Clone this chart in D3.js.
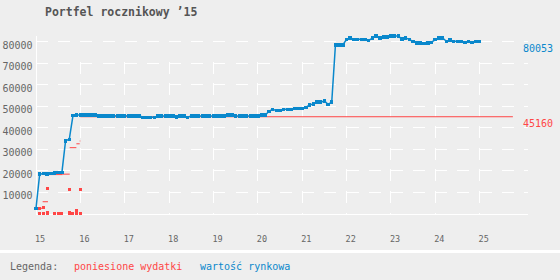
<!DOCTYPE html>
<html>
<head>
<meta charset="utf-8">
<title>Portfel rocznikowy ’15</title>
<script src="https://cdn.jsdelivr.net/npm/d3@7"></script>
<style>
  html, body { margin: 0; padding: 0; background: #eeeeee; }
  svg { display: block; font-family: "DejaVu Sans Mono", monospace; }
</style>
</head>
<body>
<div id="chart"></div>
<script>
// market value, one point per month from Jan 2015 to Jan 2025
const startYear = 2015;
const marketValue = [
  2650, 18600, 18700, 18600, 18800, 19000, 19200, 19200, 34000, 34700,
  45700, 46000, 46000, 46000, 46000, 45900, 45900, 45600, 45600, 45600,
  45600, 45500, 45600, 45600, 45500, 45600, 45600, 45500, 45500, 44900,
  44900, 44900, 44900, 45500, 45500, 45500, 45500, 45500, 45000, 45500,
  45500, 44900, 45500, 45500, 45500, 45500, 45500, 45500, 45500, 45500,
  45500, 45500, 46000, 46000, 45500, 45500, 45500, 45500, 45500, 45500,
  45600, 45900, 45900, 47700, 48600, 48100, 48100, 48600, 48600, 48600,
  49100, 49100, 49100, 49500, 50600, 51100, 51900, 51900, 52500, 50900,
  51900, 78500, 78500, 78500, 81100, 81700, 81100, 81100, 81100, 81100,
  80600, 81700, 82600, 81700, 82200, 82200, 82600, 82600, 82600, 81200,
  81700, 81100, 80000, 79500, 79500, 79100, 79500, 79700, 81100, 81700,
  81700, 80200, 80800, 80200, 80200, 80200, 79700, 80200, 79700, 80200,
  80053
];

// cumulative expenses (each level holds until the next date)
const costDates  = [2015.08, 2015.15, 2015.27, 2015.60, 2015.76, 2015.91, 2015.985, 2016.0, 2025.75];
const costTotals = [2650, 5700, 18300, 18500, 30800, 32600, 33900, 45160, 45160];

// single purchases
const buyDates   = [2015.08, 2015.08, 2015.17, 2015.17, 2015.25, 2015.25, 2015.25, 2015.42, 2015.50,
                    2015.57, 2015.75, 2015.75, 2015.75, 2015.83, 2015.92, 2015.92, 2016.00, 2016.00];
const buyAmounts = [2650, 450, 3100, 450, 11900, 450, 900, 450, 450,
                    450, 11500, 450, 900, 450, 450, 1500, 11500, 450];

const yearTicks  = [15, 16, 17, 18, 19, 20, 21, 22, 23, 24, 25];
const valueTicks = [10000, 20000, 30000, 40000, 50000, 60000, 70000, 80000];

const W = 560, H = 280;
const blue = "#0a88cc", red = "#ff4646", grey = "#666";

const x = d3.scaleLinear().domain([2015, 2025]).range([36, 479.6]);
const y = d3.scaleLinear().domain([0, 80000]).range([214, 41.7]);
const gridRight = 528;

const svg = d3.select("#chart").append("svg")
  .attr("width", W).attr("height", H);

svg.append("rect").attr("width", W).attr("height", H).attr("fill", "#eeeeee");

// title
svg.append("text")
  .attr("x", 45).attr("y", 15.5)
  .attr("font-size", 11.5).attr("font-weight", "bold")
  .attr("fill", "#555")
  .text("Portfel rocznikowy ’15");

// grid
const grid = svg.append("g").attr("stroke", "#fff").attr("shape-rendering", "crispEdges");

grid.selectAll(".hg").data(valueTicks).enter().append("line")
  .attr("x1", x(2015)).attr("x2", gridRight)
  .attr("y1", d => y(d)).attr("y2", d => y(d))
  .attr("stroke-dasharray", "12,10.18");

grid.selectAll(".vg").data(yearTicks.slice(1)).enter().append("line")
  .attr("x1", d => x(2000 + d)).attr("x2", d => x(2000 + d))
  .attr("y1", y(70000) - 1.5).attr("y2", y(0))
  .attr("stroke-dasharray", "12,9.54");

// axes lines
grid.append("line").attr("x1", x(2015)).attr("x2", x(2015))
  .attr("y1", 36).attr("y2", y(0));
grid.append("line").attr("x1", x(2015)).attr("x2", gridRight)
  .attr("y1", y(0)).attr("y2", y(0));

// tick labels
svg.selectAll(".yl").data(valueTicks).enter().append("text")
  .attr("x", 32.5).attr("y", d => y(d) + 7)
  .attr("text-anchor", "end").attr("font-size", 10).attr("fill", grey)
  .text(d => d);

svg.selectAll(".xl").data(yearTicks).enter().append("text")
  .attr("x", d => x(2000 + d) - 1).attr("y", 242)
  .attr("font-size", 8.5).attr("fill", grey)
  .text(d => d);

// expenses: horizontal levels
const levels = costDates.slice(0, -1).map((d, i) => ({ from: d, to: costDates[i + 1], v: costTotals[i] }));
svg.append("g").attr("stroke", red).attr("stroke-width", 1)
  .selectAll("line").data(levels).enter().append("line")
  .attr("x1", d => x(d.from)).attr("x2", d => x(d.to))
  .attr("y1", d => y(d.v)).attr("y2", d => y(d.v));

// purchases
svg.append("g").attr("fill", red).attr("shape-rendering", "crispEdges")
  .selectAll("rect").data(buyDates.map((d, i) => [d, buyAmounts[i]])).enter().append("rect")
  .attr("x", d => x(d[0]) - 1.5).attr("y", d => y(d[1]) - 1.5)
  .attr("width", 3).attr("height", 3);

// market value line
const pts = marketValue.map((v, i) => [startYear + i / 12, v]);
svg.append("path").datum(pts)
  .attr("fill", "none").attr("stroke", blue).attr("stroke-width", 1.5)
  .attr("d", d3.line().x(d => x(d[0])).y(d => y(d[1])));

svg.append("g").attr("fill", blue).attr("shape-rendering", "crispEdges")
  .selectAll("rect").data(pts).enter().append("rect")
  .attr("x", d => x(d[0]) - 1.75).attr("y", d => y(d[1]) - 1.75)
  .attr("width", 3.5).attr("height", 3.5);

// end labels
const lastValue = marketValue[marketValue.length - 1];
const lastCost = costTotals[costTotals.length - 1];
svg.append("text").attr("x", 523).attr("y", y(lastValue) + 10)
  .attr("font-size", 10).attr("fill", blue).text(lastValue);
svg.append("text").attr("x", 523).attr("y", y(lastCost) + 10)
  .attr("font-size", 10).attr("fill", red).text(lastCost);

// legend
svg.append("rect").attr("x", 0).attr("y", 250).attr("width", W).attr("height", 3).attr("fill", "#fff");
const legend = svg.append("g").attr("font-size", 10);
legend.append("text").attr("x", 10).attr("y", 269.5).attr("fill", grey).text("Legenda:");
legend.append("text").attr("x", 74).attr("y", 269.5).attr("fill", red).text("poniesione wydatki");
legend.append("text").attr("x", 200).attr("y", 269.5).attr("fill", blue).text("wartość rynkowa");
</script>
</body>
</html>
